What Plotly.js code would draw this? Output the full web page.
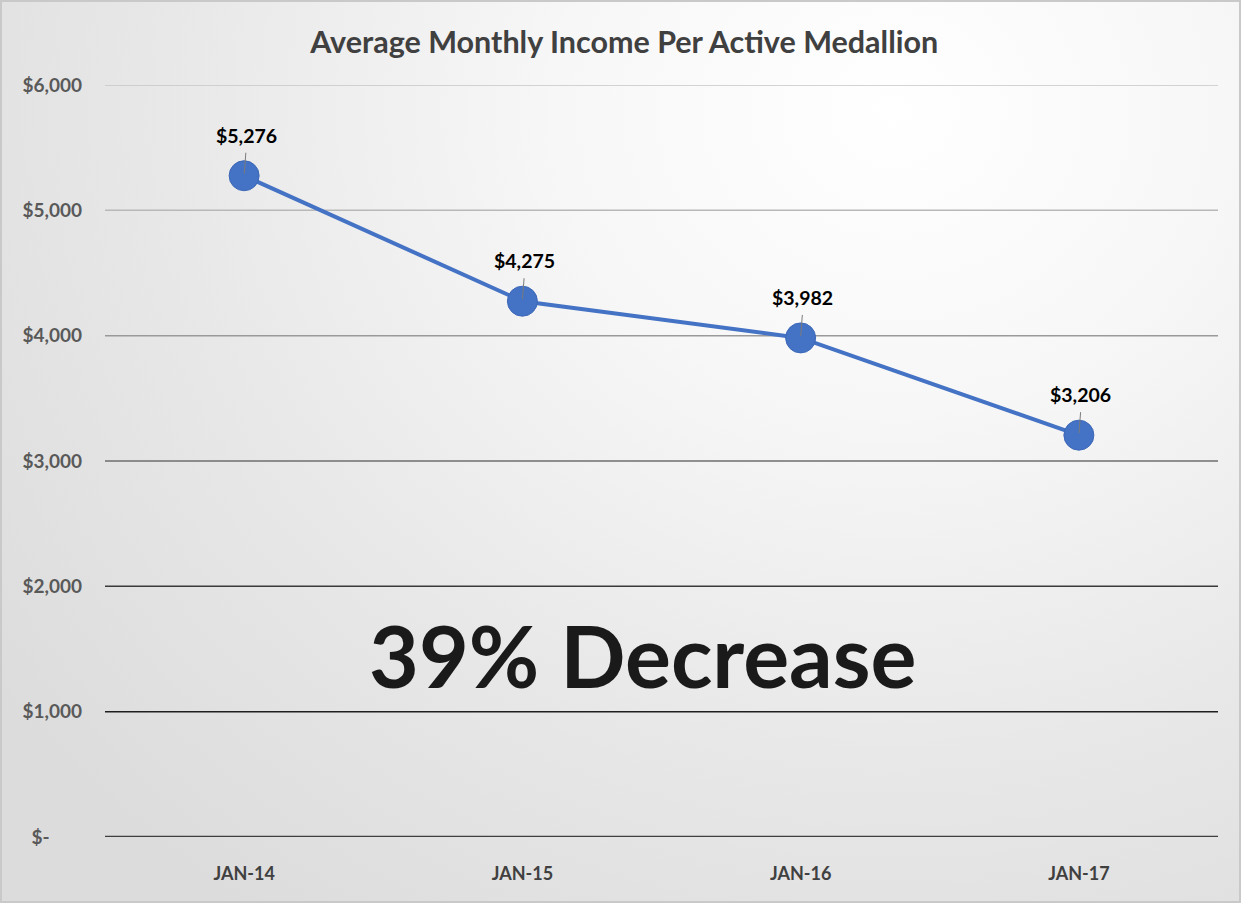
<!DOCTYPE html>
<html>
<head>
<meta charset="utf-8">
<script src="https://cdn.plot.ly/plotly-3.0.1.min.js"></script>
<style>
  html, body { margin: 0; padding: 0; }
  #wrap {
    width: 1241px; height: 903px; box-sizing: border-box;
    border: 2px solid #c9c9c9;
    background: radial-gradient(ellipse 90% 110% at 72% 12%, #ffffff 0%, #f7f7f7 30%, #e8e8e8 65%, #dcdcdc 100%);
  }
  #chart { width: 1237px; height: 899px; }
</style>
</head>
<body>
<div id="wrap"><div id="chart"></div></div>
<script>
const categories = ['JAN-14', 'JAN-15', 'JAN-16', 'JAN-17'];
const income = [5276, 4275, 3982, 3206];
const labels = ['$5,276', '$4,275', '$3,982', '$3,206'];
const yTickVals = [0, 1000, 2000, 3000, 4000, 5000, 6000];
const yTickText = ['$-\u00a0\u00a0\u00a0\u00a0\u00a0\u00a0\u00a0', '$1,000', '$2,000', '$3,000', '$4,000', '$5,000', '$6,000'];
const gridColors = ['#3f3f3f', '#1f1f1f', '#3a3a3a', '#6e6e6e', '#9a9a9a', '#b8b8b8', '#c6c6c6'];
const gridWidths = [2.5, 1.5, 1.5, 1.5, 1.5, 1.5, 1.5];

const BLUE = '#4472C4';
const FONT = 'Lato, "Open Sans", sans-serif';

const trace = {
  x: categories,
  y: income,
  type: 'scatter',
  mode: 'lines+markers',
  line: { color: BLUE, width: 4 },
  marker: { color: BLUE, size: 30, line: { color: '#3d68b8', width: 1 } },
  hoverinfo: 'skip',
  showlegend: false
};

const shapes = yTickVals.map((v, i) => ({
  type: 'line', xref: 'paper', yref: 'y', x0: 0, x1: 1, y0: v, y1: v,
  line: { color: gridColors[i], width: gridWidths[i] },
  layer: 'below'
}));

const annotations = categories.map((c, i) => ({
  x: c, y: income[i], xref: 'x', yref: 'y',
  text: labels[i], showarrow: true, arrowhead: 0, arrowwidth: 1, arrowcolor: '#7a7a7a',
  ax: 2, ay: -27, standoff: 2, startstandoff: 4,
  yanchor: 'bottom',
  font: { family: FONT, size: 19.5, color: '#000000', weight: 'bold' }
}));

annotations.push({
  xref: 'paper', yref: 'y', x: 0.483, y: 1460, showarrow: false,
  text: '39% Decrease',
  font: { family: 'Lato, "DejaVu Sans", sans-serif', size: 86, color: '#1a1a1a', weight: 'bold' }
});

const layout = {
  width: 1237, height: 899,
  paper_bgcolor: 'rgba(0,0,0,0)',
  plot_bgcolor: 'rgba(0,0,0,0)',
  margin: { l: 103, r: 21, t: 83, b: 64 },
  title: {
    text: 'Average Monthly Income Per Active Medallion',
    x: 0.503, xanchor: 'center', y: 0.955, yanchor: 'middle',
    font: { family: FONT, size: 30.5, color: '#404040', weight: 'bold' }
  },
  xaxis: {
    type: 'category', range: [-0.5, 3.5],
    showgrid: false, zeroline: false, showline: false, ticks: '',
    tickfont: { family: FONT, size: 18, color: '#404040', weight: 'bold' },
    ticklabelstandoff: 24, fixedrange: true
  },
  yaxis: {
    range: [0, 6000], tickmode: 'array', tickvals: yTickVals, ticktext: yTickText,
    showgrid: false, zeroline: false, showline: false, ticks: '',
    tickfont: { family: FONT, size: 19, color: '#595959', weight: 'bold' },
    ticklabelstandoff: 22, fixedrange: true
  },
  shapes: shapes,
  annotations: annotations
};

Plotly.newPlot('chart', [trace], layout, { displayModeBar: false, staticPlot: true });
</script>
</body>
</html>
